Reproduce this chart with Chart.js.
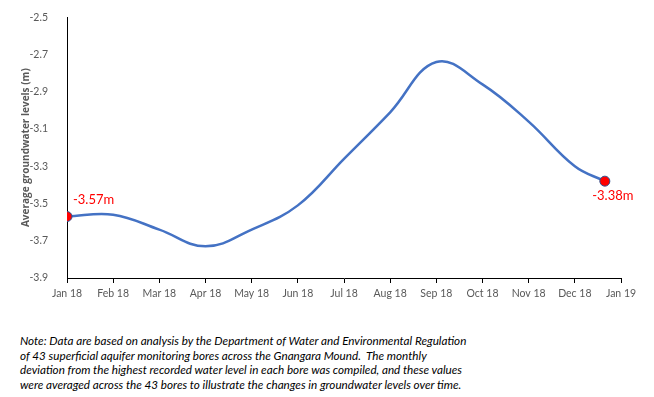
<!DOCTYPE html>
<html>
<head>
<meta charset="utf-8">
<script src="https://cdn.jsdelivr.net/npm/chart.js@4"></script>
<style>
  body { margin: 0; background: #fff; }
  #wrap { position: relative; width: 654px; height: 397px; }
  #chartBox { position: absolute; left: 0; top: 0; width: 654px; height: 312px; }
  #note {
    position: absolute; left: 20px; top: 333px;
    font-family: Lato, "Open Sans", sans-serif; font-style: italic;
    font-size: 11.7px; line-height: 14.6px; color: #000; white-space: nowrap;
  }
</style>
</head>
<body>
<div id="wrap">
  <div id="chartBox"><canvas id="levelChart"></canvas></div>
  <div id="note">
    Note: Data are based on analysis by the Department of Water and Environmental Regulation<br>
    of 43 superficial aquifer monitoring bores across the Gnangara Mound. &nbsp;The monthly<br>
    deviation from the highest recorded water level in each bore was compiled, and these values<br>
    were averaged across the 43 bores to illustrate the changes in groundwater levels over time.
  </div>
</div>
<script>
const monthLabels = ["Jan 18", "Feb 18", "Mar 18", "Apr 18", "May 18", "Jun 18", "Jul 18",
  "Aug 18", "Sep 18", "Oct 18", "Nov 18", "Dec 18", "Jan 19"];
// position in months from Jan 18 and average level (m)
const monthPos = [0, 1, 2, 3, 4, 5, 6, 7, 8, 9, 10, 11, 11.65];
const levels = [-3.57, -3.56, -3.64, -3.73, -3.64, -3.51, -3.26, -3.01, -2.74, -2.86, -3.06, -3.30, -3.38];
const yTicks = [-2.5, -2.7, -2.9, -3.1, -3.3, -3.5, -3.7, -3.9];

const points = monthPos.map((x, i) => ({ x, y: levels[i] }));
const lastIdx = points.length - 1;
const greyText = "#595959";
const font = "Lato, 'Open Sans', sans-serif";

const endLabels = {
  id: "endLabels",
  afterDatasetsDraw(chart) {
    const meta = chart.getDatasetMeta(0);
    const { ctx } = chart;
    const first = meta.data[0];
    const last = meta.data[lastIdx];
    ctx.save();
    ctx.fillStyle = "#ff0000";
    ctx.font = "13px " + font;
    ctx.textBaseline = "middle";
    ctx.textAlign = "left";
    ctx.fillText(levels[0].toFixed(2) + "m", first.x + 6, first.y - 17);
    ctx.textAlign = "center";
    ctx.fillText(levels[lastIdx].toFixed(2) + "m", last.x + 8, last.y + 15);
    ctx.restore();
  }
};

new Chart(document.getElementById("levelChart"), {
  type: "line",
  data: {
    datasets: [
      {
        data: points,
        borderColor: "#4472c4",
        borderWidth: 2.5,
        tension: 0.4,
        fill: false,
        pointRadius: points.map((_, i) => (i === 0 || i === lastIdx ? 5 : 0)),
        pointBackgroundColor: "#ff0000",
        pointBorderColor: "#2f528f",
        pointBorderWidth: 1
      }
    ]
  },
  options: {
    responsive: true,
    maintainAspectRatio: false,
    animation: false,
    layout: { padding: { left: 0, right: 33, top: 15, bottom: 0 } },
    plugins: { legend: { display: false }, tooltip: { enabled: false } },
    scales: {
      x: {
        type: "linear",
        min: 0,
        max: 12,
        afterFit: (scale) => { scale.height = 34; },
        afterBuildTicks: (scale) => { scale.ticks = monthLabels.map((_, i) => ({ value: i })); },
        border: { display: true, color: "#000", width: 1 },
        grid: { display: true, drawOnChartArea: false, drawTicks: true, tickLength: 5, color: "#000" },
        ticks: {
          autoSkip: false,
          maxRotation: 0,
          padding: 4,
          color: greyText,
          font: { family: font, size: 10.5 },
          callback: (value) => monthLabels[value]
        }
      },
      y: {
        min: -3.9,
        max: -2.5,
        afterFit: (scale) => { scale.width = 67; },
        afterBuildTicks: (scale) => { scale.ticks = yTicks.map((v) => ({ value: v })); },
        border: { display: true, color: "#000", width: 1 },
        grid: { display: false },
        ticks: {
          padding: 11,
          color: greyText,
          font: { family: font, size: 10.5 },
          callback: (value) => value.toFixed(1)
        },
        title: {
          display: true,
          text: "Average groundwater levels (m)",
          color: greyText,
          font: { family: "'Open Sans', 'DejaVu Sans', sans-serif", size: 10, weight: "bold" },
          padding: { top: 20, bottom: 0 }
        }
      }
    }
  },
  plugins: [endLabels]
});
</script>
</body>
</html>
